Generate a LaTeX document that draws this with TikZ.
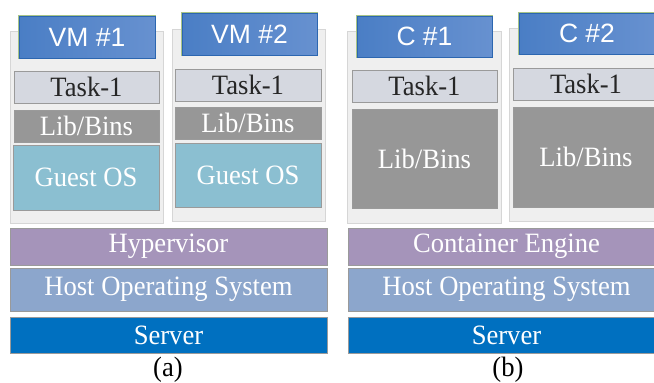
\documentclass[tikz,border=0pt]{standalone}
\usepackage{fontspec}
\setmainfont{Liberation Serif}[FakeStretch=0.95]
\newfontfamily\hdrfont{Liberation Sans}
\usetikzlibrary{shadows}

\definecolor{panelfill}{HTML}{EFEFEF}
\definecolor{paneledge}{HTML}{D6D6D6}
\definecolor{hdrL}{HTML}{4A7EC5}
\definecolor{hdrR}{HTML}{6791D0}
\definecolor{hdredge}{HTML}{2C66B0}
\definecolor{hdrrim}{HTML}{A8C487}
\definecolor{taskfill}{HTML}{D5D8E0}
\definecolor{tasktext}{HTML}{262626}
\definecolor{libfill}{HTML}{979797}
\definecolor{guestfill}{HTML}{8BBFD1}
\definecolor{hyperfill}{HTML}{A594BA}
\definecolor{hostfill}{HTML}{8CA6CC}
\definecolor{serverfill}{HTML}{0070C0}
\definecolor{boxedge}{HTML}{9A9A9A}

\begin{document}
\begin{tikzpicture}[x=1pt,y=-1pt,
  box/.style={rectangle, inner sep=0pt, draw=boxedge, line width=0.8pt,
    font=\fontsize{28}{32}\selectfont},
  panel/.style={rectangle, inner sep=0pt, fill=panelfill, draw=paneledge,
    line width=0.8pt,
    drop shadow={shadow xshift=1pt, shadow yshift=-1pt, opacity=0.25}},
  header/.style={rectangle, inner sep=0pt, left color=hdrL, right color=hdrR,
    draw=hdredge, line width=0.8pt,
    preaction={draw=hdrrim, line width=2pt},
    text=white, font=\hdrfont\fontsize{26.5}{30}\selectfont},
  taskbox/.style={box, fill=taskfill, text=tasktext, minimum height=32pt},
  libbox/.style={box, fill=libfill, text=white},
  guestbox/.style={box, fill=guestfill, text=white},
  layerbox/.style={box, text=white, minimum width=317pt},
  caption/.style={inner sep=0pt, font=\fontsize{28}{32}\selectfont}]

\useasboundingbox (0,0) rectangle (654,383);
\fill[white] (0,0) rectangle (654,383);
\clip (0,0) rectangle (654,383);

% ---------- (a) virtual machines ----------
\node[panel, minimum width=153pt, minimum height=192pt] (p1) at (86.5,127) {};
\node[header, minimum width=136pt, minimum height=42pt] (h1) at (87,37) {VM \#1};
\node[taskbox, minimum width=145pt] (t1) at (86.5,87) {Task-1};
\node[libbox, minimum width=145pt, minimum height=32pt] (l1) at (86.5,126) {Lib/Bins};
\node[guestbox, minimum width=146pt, minimum height=65pt] (g1) at (86,177.5) {Guest OS};

\node[panel, minimum width=153pt, minimum height=192pt] (p2) at (248.5,125) {};
\node[header, minimum width=135pt, minimum height=42pt] (h2) at (249.5,34) {VM \#2};
\node[taskbox, minimum width=146pt] (t2) at (248,85) {Task-1};
\node[libbox, minimum width=146pt, minimum height=32pt] (l2) at (248,123) {Lib/Bins};
\node[guestbox, minimum width=146pt, minimum height=64pt] (g2) at (248,175) {Guest OS};

\node[layerbox, fill=hyperfill, minimum height=37pt] (hv) at (168.5,246.5) {Hypervisor};
\node[layerbox, fill=hostfill, minimum height=43pt] (hosta) at (168.5,289.5) {Host Operating System};
\node[layerbox, fill=serverfill, minimum height=36pt] (srva) at (168.5,335) {Server};
\node[caption] (capa) at (168,370) {(a)};

% ---------- (b) containers ----------
\node[panel, minimum width=154pt, minimum height=192pt] (p3) at (424,127) {};
\node[header, minimum width=135pt, minimum height=41pt] (h3) at (424.5,36.5) {C \#1};
\node[taskbox, minimum width=145pt] (t3) at (424.5,86) {Task-1};
\node[libbox, minimum width=145pt, minimum height=99pt] (l3) at (424.5,158.5) {Lib/Bins};

\node[panel, minimum width=153pt, minimum height=193pt] (p4) at (585.5,124.5) {};
\node[header, minimum width=136pt, minimum height=41pt] (h4) at (587,33.5) {C \#2};
\node[taskbox, minimum width=146pt] (t4) at (586,84) {Task-1};
\node[libbox, minimum width=146pt, minimum height=100pt] (l4) at (586,157) {Lib/Bins};

\node[layerbox, fill=hyperfill, minimum height=37pt] (ce) at (506.5,246.5) {Container Engine};
\node[layerbox, fill=hostfill, minimum height=43pt] (hostb) at (506.5,289.5) {Host Operating System};
\node[layerbox, fill=serverfill, minimum height=36pt] (srvb) at (506.5,335) {Server};
\node[caption] (capb) at (508,370) {(b)};
\end{tikzpicture}
\end{document}
